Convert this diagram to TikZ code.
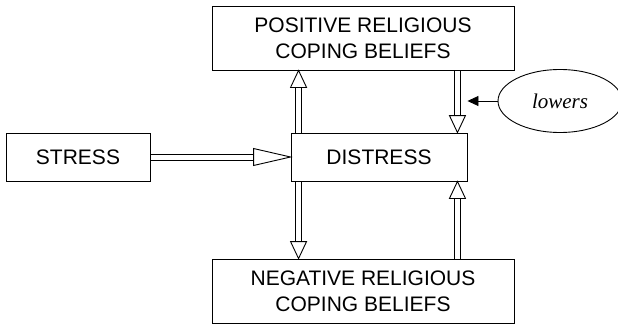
\documentclass[tikz,border=0pt]{standalone}
\usepackage{fontspec}
\setmainfont{Liberation Sans}
\newfontfamily\serifit{Liberation Serif}
\usetikzlibrary{arrows.meta,calc,shapes.geometric}
\tikzset{
  box/.style={draw, line width=0.9pt, align=center, inner sep=0pt, font=\fontsize{21}{26}\selectfont},
  rail/.style={draw, line width=0.9pt},
  vhead/.pic={\draw[line width=0.9pt, fill=white, line join=miter] (0,0) -- (-17pt,8pt) -- (-17pt,-8pt) -- cycle;},
  shead/.pic={\draw[line width=0.9pt, fill=white, line join=miter] (0,0) -- (-37pt,8.5pt) -- (-37pt,-8.5pt) -- cycle;}
}
\begin{document}
\begin{tikzpicture}[x=1pt,y=1pt]
\useasboundingbox (0,0) rectangle (618,325);
\clip (0,0) rectangle (618,325);
\node[box, minimum width=302pt, minimum height=64pt] (top) at (363,287) {POSITIVE RELIGIOUS\\COPING BELIEFS};
\node[box, minimum width=144pt, minimum height=48pt] (stress) at (78,168) {STRESS};
\node[box, minimum width=176pt, minimum height=48pt] (distress) at (379,168) {DISTRESS};
\node[box, minimum width=302pt, minimum height=64pt] (bottom) at (363,34) {NEGATIVE RELIGIOUS\\COPING BELIEFS};
\node[draw, ellipse, line width=0.9pt, minimum width=124pt, minimum height=63pt, inner sep=0pt, font=\serifit\itshape\fontsize{21}{26}\selectfont] (ell) at (560,224) {lowers};
% vertical connector anchors
\coordinate (dNL) at ($(distress.north west)+(8,0)$);
\coordinate (dNR) at ($(distress.north east)+(-10,0)$);
\coordinate (dSL) at ($(distress.south west)+(8,0)$);
\coordinate (dSR) at ($(distress.south east)+(-10,0)$);
\coordinate (tL) at (top.south -| dNL);
\coordinate (tR) at (top.south -| dNR);
\coordinate (bL) at (bottom.north -| dSL);
\coordinate (bR) at (bottom.north -| dSR);
% distress -> positive
\draw[rail] ([xshift=-3pt]dNL) -- ([xshift=-3pt,yshift=-16pt]tL);
\draw[rail] ([xshift=3pt]dNL) -- ([xshift=3pt,yshift=-16pt]tL);
\pic[rotate=90] at (tL) {vhead};
% positive -> distress
\draw[rail] ([xshift=-3pt]tR) -- ([xshift=-3pt,yshift=16pt]dNR);
\draw[rail] ([xshift=3pt]tR) -- ([xshift=3pt,yshift=16pt]dNR);
\pic[rotate=-90] at (dNR) {vhead};
% distress -> negative
\draw[rail] ([xshift=-3pt]dSL) -- ([xshift=-3pt,yshift=16pt]bL);
\draw[rail] ([xshift=3pt]dSL) -- ([xshift=3pt,yshift=16pt]bL);
\pic[rotate=-90] at (bL) {vhead};
% negative -> distress
\draw[rail] ([xshift=-3pt]bR) -- ([xshift=-3pt,yshift=-16pt]dSR);
\draw[rail] ([xshift=3pt]bR) -- ([xshift=3pt,yshift=-16pt]dSR);
\pic[rotate=90] at (dSR) {vhead};
% stress -> distress
\draw[rail] ([yshift=3pt]stress.east) -- ([xshift=-36pt,yshift=3pt]distress.west);
\draw[rail] ([yshift=-3pt]stress.east) -- ([xshift=-36pt,yshift=-3pt]distress.west);
\pic at (distress.west) {shead};
% lowers
\draw[line width=0.9pt, -{Triangle[length=11pt,width=10pt]}] (ell.west) -- (ell.west -| distress.east);
\end{tikzpicture}
\end{document}
